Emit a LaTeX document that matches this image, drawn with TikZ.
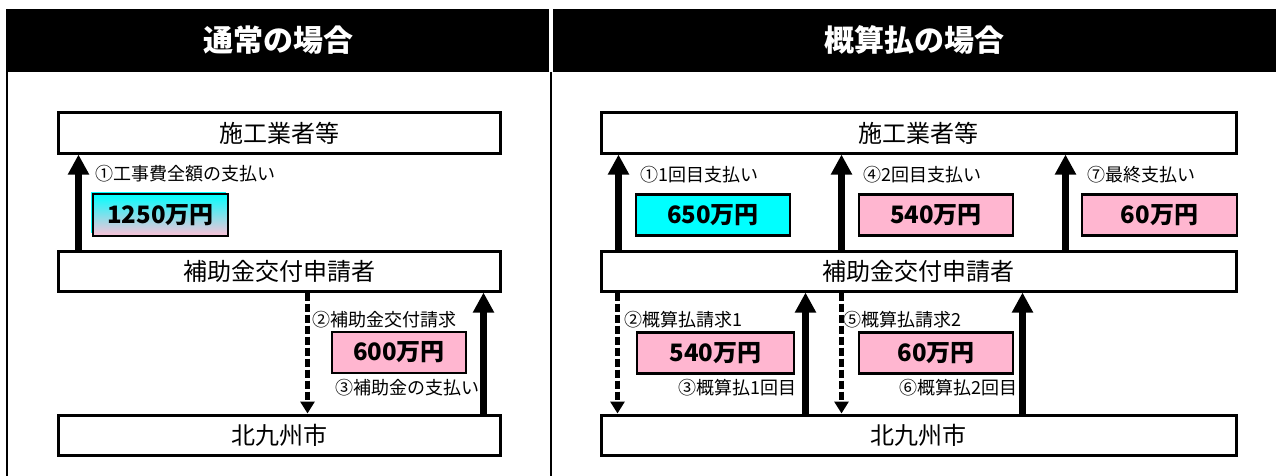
\documentclass[tikz,border=0pt]{standalone}
\usepackage{fontspec}
\setmainfont{Noto Sans CJK JP}
\usetikzlibrary{arrows.meta,positioning}
\definecolor{kinpink}{RGB}{255,182,208}
\definecolor{kincyan}{RGB}{0,255,255}
\begin{document}
\begin{tikzpicture}[x=1pt, y=-1pt,
  head/.style={fill=black, text=white, inner sep=0pt, minimum height=63pt, font=\bfseries\fontsize{30}{30}\selectfont},
  party/.style={draw, line width=3pt, fill=white, inner sep=0pt, minimum height=40pt, font=\fontsize{24}{24}\selectfont},
  amount/.style={draw, line width=2.5pt, inner sep=0pt, minimum height=41pt, font=\bfseries\fontsize{24}{24}\selectfont},
  note/.style={anchor=west, inner sep=0pt, font=\fontsize{18}{18}\selectfont},
  pay/.style={line width=6.5pt, -{Triangle[width=20pt,length=20pt]}},
  claim/.style={line width=5pt, dash pattern=on 8pt off 3pt, -{Triangle[width=14pt,length=12pt]}}]
\useasboundingbox (0,0) rectangle (1276,476);

% frame and headers
\draw[line width=2pt] (7,9) -- (7,476);
\draw[line width=2pt] (551,72) -- (551,476);
\node[head, minimum width=542pt] (NormalHead) at (278,40.5) {通常の場合};
\node[head, minimum width=723pt] (AdvanceHead) at (914.5,40.5) {概算払の場合};

% normal case
\node[party, minimum width=442pt] (ContractorA) at (279,133) {施工業者等};
\node[party, minimum width=442pt] (ApplicantA) at (279,271) {補助金交付申請者};
\node[party, minimum width=442pt] (CityA) at (279,435) {北九州市};

\fill[kincyan] (91,192) rectangle (226,233);
\node[amount, top color=kincyan, bottom color=kinpink!85!white, minimum width=135pt, minimum height=42pt] (TotalPay) at (160.5,215) {1250万円};
\node[amount, fill=kinpink, minimum width=134pt] (GrantPay) at (399,352.5) {600万円};

\node[note] (NoteA1) at (95,174) {①工事費全額の支払い};
\node[note] (NoteA2) at (312,320) {②補助金交付請求};
\node[note] (NoteA3) at (335,388) {③補助金の支払い};

\draw[pay]   ([xshift=22pt]ApplicantA.north west) -- ([xshift=22pt]ContractorA.south west);
\draw[claim] ([xshift=251pt]ApplicantA.south west) -- ([xshift=251pt]CityA.north west);
\draw[pay]   ([xshift=427pt]CityA.north west) -- ([xshift=427pt]ApplicantA.south west);

% advance payment case
\node[party, minimum width=635pt] (ContractorB) at (918.5,133) {施工業者等};
\node[party, minimum width=635pt] (ApplicantB) at (918.5,271) {補助金交付申請者};
\node[party, minimum width=635pt] (CityB) at (918.5,435) {北九州市};

\node[amount, fill=kincyan, minimum width=154pt] (FirstPay) at (713,215) {650万円};
\node[amount, fill=kinpink, minimum width=154pt] (SecondPay) at (936,215) {540万円};
\node[amount, fill=kinpink, minimum width=155pt] (LastPay) at (1159.5,215) {60万円};
\node[amount, fill=kinpink, minimum width=157pt] (AdvanceOne) at (715.5,353) {540万円};
\node[amount, fill=kinpink, minimum width=154pt] (AdvanceTwo) at (936,353) {60万円};

\node[note] (NoteB1) at (640,175) {①1回目支払い};
\node[note] (NoteB4) at (863,175) {④2回目支払い};
\node[note] (NoteB7) at (1087,175) {⑦最終支払い};
\node[note] (NoteB2) at (624,320) {②概算払請求1};
\node[note] (NoteB5) at (843,320) {⑤概算払請求2};
\node[note, anchor=east] (NoteB3) at (797,388) {③概算払1回目};
\node[note, anchor=east] (NoteB6) at (1018,388) {⑥概算払2回目};

\draw[pay]   ([xshift=19pt]ApplicantB.north west) -- ([xshift=19pt]ContractorB.south west);
\draw[pay]   ([xshift=242pt]ApplicantB.north west) -- ([xshift=242pt]ContractorB.south west);
\draw[pay]   ([xshift=466pt]ApplicantB.north west) -- ([xshift=466pt]ContractorB.south west);
\draw[claim] ([xshift=18pt]ApplicantB.south west) -- ([xshift=18pt]CityB.north west);
\draw[pay]   ([xshift=206pt]CityB.north west) -- ([xshift=206pt]ApplicantB.south west);
\draw[claim] ([xshift=242pt]ApplicantB.south west) -- ([xshift=242pt]CityB.north west);
\draw[pay]   ([xshift=423pt]CityB.north west) -- ([xshift=423pt]ApplicantB.south west);

\end{tikzpicture}
\end{document}
